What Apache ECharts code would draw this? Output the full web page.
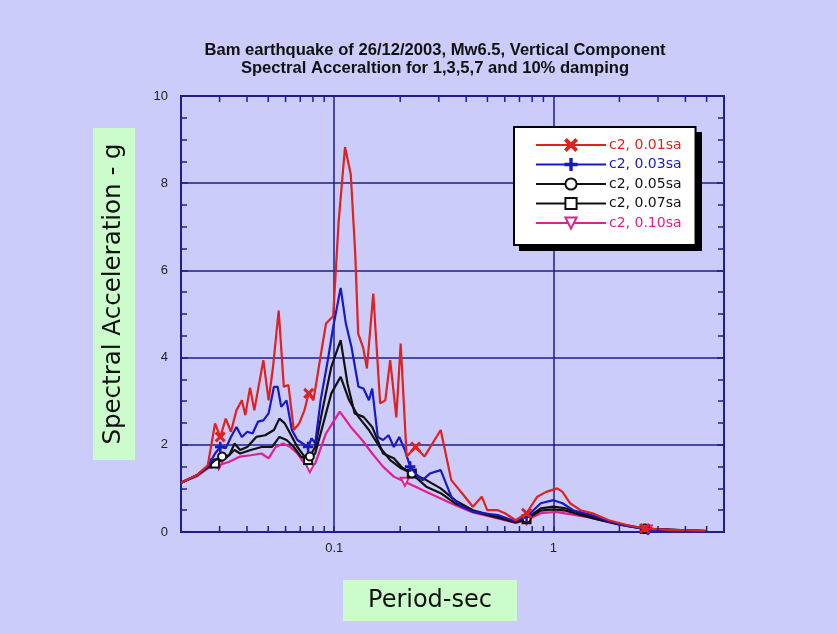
<!DOCTYPE html>
<html><head><meta charset="utf-8">
<script src="https://cdn.jsdelivr.net/npm/echarts@6/dist/echarts.min.js"></script>
<style>html,body{margin:0;padding:0;background:#ccccfa}#chart{width:837px;height:634px}</style>
</head><body><div id="chart"></div>
<script>
const titleText = 'Bam earthquake of 26/12/2003, Mw6.5, Vertical Component\nSpectral Acceraltion for 1,3,5,7 and 10% damping';
const xAxisTitle = 'Period-sec';
const yAxisTitle = 'Spectral Acceleration - g';
const seriesNames = ['c2, 0.01sa', 'c2, 0.03sa', 'c2, 0.05sa', 'c2, 0.07sa', 'c2, 0.10sa'];

const period001 = [0.020,0.0237,0.0265,0.0286,0.0302,0.0320,0.0338,0.0358,0.0379,0.0393,0.0413,0.0432,0.0475,0.0502,0.0526,0.0558,0.0589,0.0618,0.0654,0.0692,0.0731,0.0765,0.0804,0.0851,0.0917,0.0989,0.1047,0.112,0.119,0.1247,0.1286,0.1355,0.141,0.1507,0.162,0.171,0.180,0.192,0.201,0.214,0.235,0.258,0.306,0.342,0.383,0.429,0.471,0.499,0.558,0.601,0.673,0.754,0.844,0.927,1.04,1.10,1.19,1.33,1.51,1.79,2.16,2.61,3.40,4.94];
const sa001 = [1.13,1.31,1.53,2.49,2.18,2.60,2.30,2.79,3.02,2.68,3.31,2.79,3.94,3.02,3.79,5.08,3.33,3.37,2.34,2.49,2.79,3.18,3.02,3.79,4.78,4.95,7.1,8.83,8.2,6.38,4.55,4.23,3.75,5.47,2.95,3.02,3.94,2.63,4.32,1.73,1.95,1.73,2.34,1.19,0.89,0.58,0.81,0.50,0.50,0.43,0.27,0.43,0.81,0.92,1.0,0.92,0.66,0.50,0.43,0.27,0.16,0.08,0.05,0.03];

const period003 = [0.020,0.0237,0.0265,0.0286,0.0302,0.0320,0.0338,0.0358,0.0379,0.0401,0.0424,0.0449,0.0475,0.0502,0.0531,0.0552,0.0573,0.0606,0.0641,0.0679,0.0718,0.0760,0.0789,0.0819,0.0867,0.0935,0.0989,0.107,0.113,0.120,0.129,0.136,0.144,0.149,0.158,0.167,0.177,0.187,0.198,0.210,0.222,0.235,0.253,0.273,0.306,0.342,0.383,0.429,0.480,0.558,0.673,0.754,0.875,1.0,1.10,1.23,1.49,1.79,2.16,2.70,3.66,4.94];
const sa003 = [1.13,1.31,1.50,1.80,1.95,1.92,2.18,2.41,2.18,2.30,2.26,2.53,2.56,2.72,3.33,3.33,2.87,3.02,2.34,2.11,2.03,1.95,2.15,2.03,3.02,3.94,4.70,5.60,4.78,4.23,3.33,3.29,3.02,3.29,2.18,2.11,2.22,1.95,2.18,1.88,1.50,1.34,1.19,1.34,1.42,0.81,0.58,0.47,0.43,0.39,0.24,0.35,0.66,0.73,0.66,0.50,0.39,0.24,0.14,0.06,0.04,0.02];

const period005 = [0.020,0.0237,0.0265,0.0286,0.0308,0.0332,0.0351,0.0372,0.0401,0.0441,0.0484,0.0531,0.0562,0.0595,0.0630,0.0679,0.0732,0.0774,0.0819,0.0883,0.0970,0.107,0.115,0.124,0.136,0.149,0.167,0.187,0.202,0.226,0.263,0.306,0.355,0.429,0.518,0.673,0.754,0.875,1.0,1.14,1.33,1.59,2.00,2.61,4.94];
const sa005 = [1.13,1.31,1.50,1.65,1.73,1.76,2.03,1.88,1.95,2.18,2.22,2.34,2.60,2.49,2.26,1.95,1.73,1.73,1.95,2.79,3.79,4.40,3.40,2.72,2.64,2.41,1.80,1.69,1.50,1.34,1.19,1.00,0.73,0.50,0.39,0.24,0.31,0.54,0.58,0.54,0.43,0.31,0.18,0.08,0.02];

const period007 = [0.020,0.0237,0.0265,0.0286,0.0320,0.0351,0.0372,0.0416,0.0466,0.0521,0.0562,0.0606,0.0654,0.0705,0.0760,0.0819,0.0883,0.0970,0.107,0.117,0.129,0.144,0.161,0.180,0.202,0.226,0.263,0.306,0.355,0.429,0.518,0.673,0.754,0.875,1.0,1.14,1.33,1.59,2.00,2.61,4.94];
const sa007 = [1.13,1.30,1.48,1.57,1.69,1.88,1.80,1.88,1.95,1.95,2.18,2.11,1.95,1.73,1.65,1.80,2.41,3.18,3.56,3.02,2.64,2.34,1.95,1.65,1.46,1.34,1.04,0.89,0.66,0.47,0.37,0.22,0.29,0.49,0.52,0.49,0.39,0.29,0.17,0.07,0.02];

const period010 = [0.020,0.0237,0.0265,0.0297,0.0332,0.0372,0.0416,0.0466,0.0502,0.0541,0.0584,0.0630,0.0679,0.0732,0.0774,0.0819,0.0917,0.106,0.119,0.134,0.149,0.167,0.187,0.210,0.244,0.294,0.355,0.429,0.518,0.673,0.754,0.875,1.02,1.19,1.43,1.73,2.16,2.70,4.94];
const sa010 = [1.13,1.28,1.46,1.53,1.61,1.73,1.76,1.80,1.69,1.95,2.03,1.95,1.80,1.57,1.46,1.57,2.26,2.76,2.41,2.11,1.80,1.50,1.27,1.15,1.00,0.81,0.62,0.45,0.35,0.21,0.27,0.43,0.46,0.41,0.34,0.25,0.15,0.06,0.02];

const markerPeriods = [0.03, 0.077, 0.226, 0.74, 2.7];
const xMinorTicks = [0.03,0.04,0.05,0.06,0.07,0.08,0.09,0.2,0.3,0.4,0.5,0.6,0.7,0.8,0.9,2,3,4,5];
const xMin = 0.02, xMax = 6, yMin = 0, yMax = 10, yStep = 2;

const axisColor = '#1e1e8c';
const colors = ['#dd2222', '#1818c8', '#111111', '#111111', '#e0208c'];
const symbols = [
  'path://M0,1.2 L1.2,0 L5,3.8 L8.8,0 L10,1.2 L6.2,5 L10,8.8 L8.8,10 L5,6.2 L1.2,10 L0,8.8 L3.8,5Z',
  'path://M4.4,0H5.6V4.4H10V5.6H5.6V10H4.4V5.6H0V4.4H4.4Z',
  'emptyCircle', 'emptyRect', 'emptyTriangle'
];
const rotations = [0, 0, 0, 0, 180];
const allPeriods = [period001, period003, period005, period007, period010];
const allValues = [sa001, sa003, sa005, sa007, sa010];

function buildData(periods, values) {
  const marks = new Set(markerPeriods.map(mp => {
    let best = 0, bd = Infinity;
    periods.forEach((p, i) => { const d = Math.abs(Math.log(p / mp)); if (d < bd) { bd = d; best = i; } });
    return best;
  }));
  return periods.map((p, i) => marks.has(i) ? { value: [p, values[i]] } : { value: [p, values[i]], symbol: 'none' });
}

const series = seriesNames.map((name, k) => ({
  name, type: 'line', data: buildData(allPeriods[k], allValues[k]),
  symbol: symbols[k], symbolSize: k < 2 ? 9 : 8, symbolRotate: rotations[k], showSymbol: true, showAllSymbol: true,
  lineStyle: { color: colors[k], width: 2.2 },
  itemStyle: { color: colors[k], borderColor: colors[k], borderWidth: 1.5 },
  z: 10 - k
}));

series.push({
  type: 'custom', silent: true, z: 20,
  data: xMinorTicks.map(t => [t, 0]), encode: { x: 0, y: 1 },
  renderItem: (params, api) => {
    const t = api.value(0);
    const b = api.coord([t, yMin]);
    const tp = api.coord([t, yMax]);
    const st = { stroke: axisColor, lineWidth: 1.5 };
    return { type: 'group', children: [
      { type: 'line', shape: { x1: b[0], y1: b[1], x2: b[0], y2: b[1] - 6 }, style: st },
      { type: 'line', shape: { x1: tp[0], y1: tp[1], x2: tp[0], y2: tp[1] + 6 }, style: st }
    ] };
  }
});

const chart = echarts.init(document.getElementById('chart'), null, { renderer: 'canvas' });
chart.setOption({
  animation: false,
  backgroundColor: '#ccccfa',
  title: {
    text: titleText, left: 430, top: 36, textAlign: 'center',
    textStyle: { fontSize: 16.6, fontWeight: 'bold', fontFamily: 'Arial, "Liberation Sans"', color: '#111', lineHeight: 18 }
  },
  grid: { left: 181, top: 96, width: 543, height: 436, show: true, borderColor: axisColor, borderWidth: 2, backgroundColor: 'transparent' },
  legend: {
    orient: 'vertical', left: 514, top: 127, z: 6,
    padding: [11, 14, 15, 21], itemWidth: 70, itemHeight: 14, itemGap: 5.5,
    backgroundColor: '#ffffff', borderColor: '#000', borderWidth: 2,
    textStyle: { fontSize: 14, fontFamily: '"DejaVu Sans"', padding: [0, 0, 0, -2] },
    data: seriesNames.map((n, k) => ({ name: n, textStyle: { color: colors[k] } }))
  },
  xAxis: {
    type: 'log', logBase: 10, min: xMin, max: xMax,
    axisLine: { show: true, lineStyle: { color: axisColor, width: 2 } },
    axisTick: { show: true, inside: true, length: 6, lineStyle: { color: axisColor, width: 1.5 } },
    minorTick: { show: false },
    axisLabel: {
      color: '#222', fontSize: 13, fontFamily: 'Arial', margin: 10,
      formatter: v => { const l = Math.log10(v); return Math.abs(l - Math.round(l)) < 1e-6 ? String(+v.toPrecision(3)) : ''; }
    },
    splitLine: { show: true, lineStyle: { color: axisColor, width: 1.5 } }
  },
  yAxis: [{
    type: 'value', min: yMin, max: yMax, interval: yStep,
    axisLine: { show: true, lineStyle: { color: axisColor, width: 2 } },
    axisTick: { show: true, inside: true, length: 7, lineStyle: { color: axisColor, width: 1.5 } },
    minorTick: { show: true, splitNumber: 4, length: 6, lineStyle: { color: axisColor, width: 1.5 } },
    axisLabel: { color: '#222', fontSize: 13, fontFamily: 'Arial', margin: 13 },
    splitLine: { show: true, lineStyle: { color: axisColor, width: 1.5 } }
  }, {
    type: 'value', position: 'right', min: yMin, max: yMax, interval: yStep,
    axisLine: { show: true, lineStyle: { color: axisColor, width: 2 } },
    axisTick: { show: true, inside: true, length: 7, lineStyle: { color: axisColor, width: 1.5 } },
    minorTick: { show: true, splitNumber: 4, length: 6, lineStyle: { color: axisColor, width: 1.5 } },
    axisLabel: { show: false },
    splitLine: { show: false }
  }],
  graphic: [
    { type: 'rect', z: 5, left: 519, top: 132, shape: { width: 183, height: 119 }, style: { fill: '#000' } },
    { type: 'rect', left: 343, top: 580, shape: { width: 174, height: 41 }, style: { fill: '#ccfccc' } },
    { type: 'text', x: 430, y: 601, style: { text: xAxisTitle, font: '24px "DejaVu Sans"', fill: '#111', align: 'center', verticalAlign: 'middle' } },
    { type: 'rect', left: 93, top: 128, shape: { width: 42, height: 332 }, style: { fill: '#ccfccc' } },
    { type: 'text', x: 114, y: 294, rotation: Math.PI / 2, style: { text: yAxisTitle, font: '24.5px "DejaVu Sans"', fill: '#111', align: 'center', verticalAlign: 'middle' } }
  ],
  series
});
</script>
</body></html>
